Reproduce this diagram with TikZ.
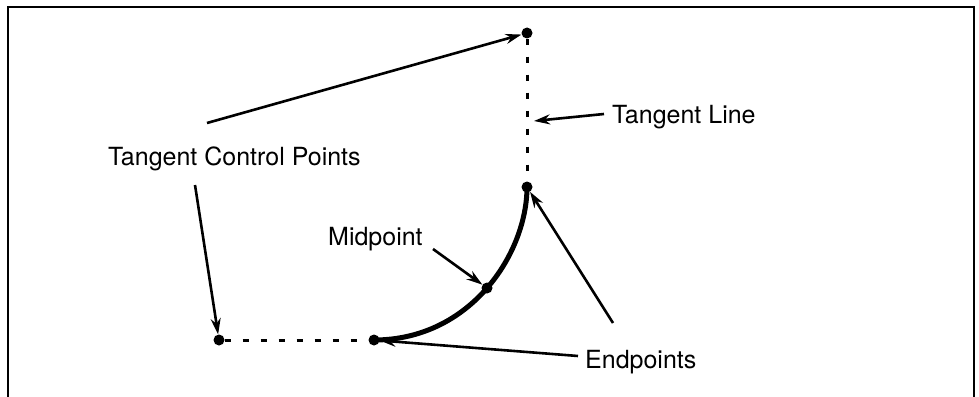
\documentclass[tikz,border=0pt]{standalone}
\usepackage{fontspec}
\setmainfont{TeX Gyre Heros}
\usetikzlibrary{arrows.meta}
\begin{document}
\begin{tikzpicture}[x=1pt,y=-1pt,
  dot/.style={circle,fill=black,inner sep=0pt,minimum size=11pt},
  lbl/.style={inner sep=0pt,anchor=base west,font=\fontsize{25}{30}\selectfont},
  pointer/.style={line width=2.6pt,-{Stealth[length=16pt,width=10pt]}},
  tangent/.style={line width=3pt,dash pattern=on 6pt off 12pt},
  frameline/.style={line width=2.5pt}]
\useasboundingbox (0,0) rectangle (979,396);
\draw[frameline] (8,400) -- (8,7) -- (974,7) -- (974,400);
% points
\node[dot] (ctop) at (527,33) {};
\node[dot] (etop) at (527,187) {};
\node[dot] (mid) at (487,288) {};
\node[dot] (ebot) at (374,340) {};
\node[dot] (cleft) at (219,340) {};
% tangent lines
\draw[tangent] (ctop) -- (etop);
\draw[tangent] (cleft) -- (ebot);
% curve
\draw[line width=5pt] (ebot.center) .. controls (471,340) and (527,253) .. (etop.center);
% labels
\node[lbl] (tl) at (612,123) {Tangent Line};
\node[lbl] (tcp) at (108,165) {Tangent Control Points};
\node[lbl] (mp) at (328,245) {Midpoint};
\node[lbl] (ep) at (585,368) {Endpoints};
% pointer ends
\coordinate (a1s) at (207,123);
\coordinate (a2s) at (195,185);
\coordinate (a3s) at (604,114);
\coordinate (a3e) at (534,121);
\coordinate (a4s) at (433,249);
\coordinate (a5s) at (578,356);
\coordinate (a6s) at (613,323);
\draw[pointer] (a1s) -- (ctop);
\draw[pointer] (a2s) -- (cleft);
\draw[pointer] (a3s) -- (a3e);
\draw[pointer] (a4s) -- (mid);
\draw[pointer] (a5s) -- (ebot);
\draw[pointer] (a6s) -- (etop);
\end{tikzpicture}
\end{document}
